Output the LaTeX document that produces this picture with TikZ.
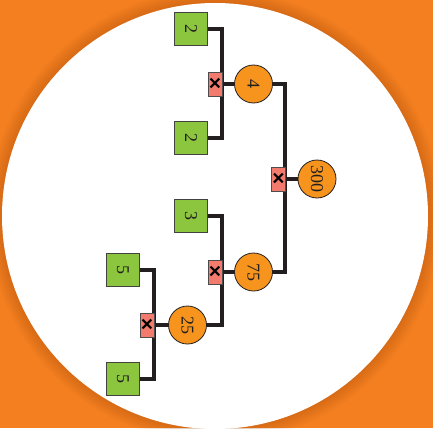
\documentclass[tikz,border=0pt]{standalone}
\usepackage{fontspec}
\setmainfont{Liberation Serif}
\newfontfamily\crossfont{Liberation Sans}
\pgfdeclarelayer{bgl}
\pgfdeclarelayer{lines}
\pgfsetlayers{bgl,lines,main}
\definecolor{bgorange}{HTML}{F47F20}
\definecolor{shadow}{HTML}{A8500E}
\definecolor{leafgreen}{HTML}{8CC63F}
\definecolor{prodorange}{HTML}{F7941D}
\definecolor{salmon}{HTML}{F27B6D}
\definecolor{ink}{HTML}{231F20}
\tikzset{
  leaf/.style={draw=ink!85, line width=0.8pt, fill=leafgreen, minimum size=33pt, inner sep=0pt},
  prod/.style={draw=ink, line width=0.8pt, fill=prodorange, circle, minimum size=38pt, inner sep=0pt},
  opbox/.style={draw=ink!80, line width=0.7pt, fill=salmon, minimum width=14pt, minimum height=24pt, inner sep=0pt,
    font=\crossfont\bfseries\fontsize{21}{21}\selectfont},
  num/.style={rotate=-90, inner sep=0pt, text=ink, font=\fontsize{18}{18}\selectfont},
  wire/.style={draw=ink, line width=4pt, line join=miter, line cap=rect}
}
\begin{document}
\begin{tikzpicture}[x=1pt,y=-1pt]
\useasboundingbox (0,0) rectangle (433,428);
\begin{pgfonlayer}{bgl}
\clip (0,0) rectangle (433,428);
\fill[bgorange] (0,0) rectangle (433,428);
\foreach \i in {10,9,...,1}{
  \fill[shadow, opacity=0.035] (215,216) circle[radius=213+1.4*\i];
}
\fill[white] (215,216) circle[radius=213];
\end{pgfonlayer}

% leaves
\node[leaf] (g1) at (191,29) {};
\node[leaf] (g2) at (191,138) {};
\node[leaf] (g3) at (191,216) {};
\node[leaf] (g4) at (123,270) {};
\node[leaf] (g5) at (123,379) {};
\node[num] (tg1) at (g1) {2};
\node[num] (tg2) at (g2) {2};
\node[num] (tg3) at (g3) {3};
\node[num] (tg4) at (g4) {5};
\node[num] (tg5) at (g5) {5};
% operator boxes
\node[opbox] (m1) at (215,84) {×};
\node[opbox] (m2) at (278.5,179) {×};
\node[opbox] (m3) at (215,272) {×};
\node[opbox] (m4) at (147,325) {×};
% products
\node[prod] (c1) at (253.5,84) {};
\node[prod] (c2) at (317,179) {};
\node[prod] (c3) at (253.5,272) {};
\node[prod] (c4) at (187.5,325) {};
\node[num] (tc1) at (c1) {4};
\node[num] (tc2) at (c2) {300};
\node[num] (tc3) at (c3) {75};
\node[num] (tc4) at (c4) {25};

\begin{pgfonlayer}{lines}
\draw[wire] (g1.east) -| ([xshift=-0.5pt]m1.east) |- (g2.east);
\draw[wire] ([xshift=-0.5pt]m1.east) -- (c1.west);
\draw[wire] (c1.east) -| ([xshift=-0.5pt]m2.east) |- (c3.east);
\draw[wire] ([xshift=-0.5pt]m2.east) -- (c2.west);
\draw[wire] (g3.east) -| ([xshift=-0.5pt]m3.east) |- (c4.east);
\draw[wire] ([xshift=-0.5pt]m3.east) -- (c3.west);
\draw[wire] (g4.east) -| ([xshift=-0.5pt]m4.east) |- (g5.east);
\draw[wire] ([xshift=-0.5pt]m4.east) -- (c4.west);
\end{pgfonlayer}
\end{tikzpicture}
\end{document}
